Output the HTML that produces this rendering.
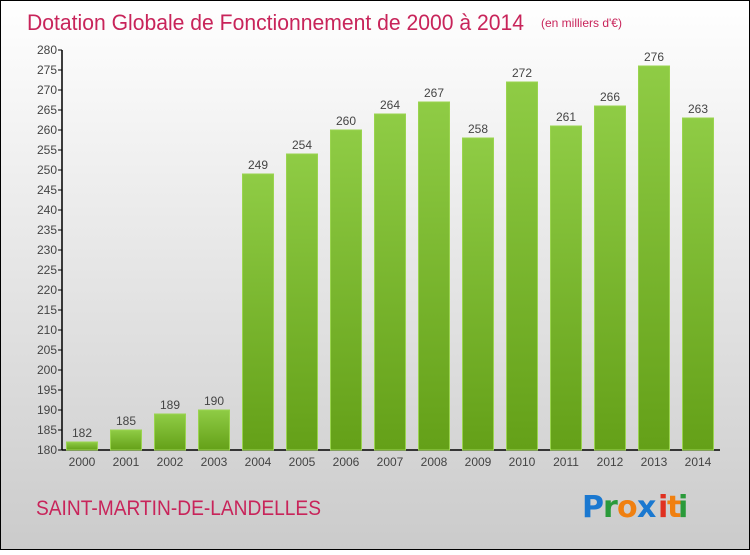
<!DOCTYPE html>
<html><head><meta charset="utf-8"><style>
html,body{margin:0;padding:0}
body{width:750px;height:550px;overflow:hidden;font-family:"Liberation Sans",sans-serif}
</style></head><body>
<svg id="chart" width="750" height="550" xmlns="http://www.w3.org/2000/svg">
<defs>
<linearGradient id="bg" x1="0" y1="0" x2="0" y2="1"><stop offset="0" stop-color="#ffffff"/><stop offset="1" stop-color="#cbcbcb"/></linearGradient>
<linearGradient id="bar" x1="0" y1="0" x2="0" y2="1"><stop offset="0" stop-color="#8fcc45"/><stop offset="1" stop-color="#64a018"/></linearGradient>
</defs>
<rect x="0.5" y="0.5" width="749" height="549" fill="url(#bg)" stroke="#000"/>
<text x="27" y="30" font-size="22" fill="#c8245a" textLength="497" lengthAdjust="spacingAndGlyphs">Dotation Globale de Fonctionnement de 2000 à 2014</text>
<text x="541" y="27" font-size="12" fill="#c8245a">(en milliers d'€)</text>
<g id="axes"></g>
<g id="bars"></g>
<text x="36" y="515" font-size="21" fill="#c8245a" textLength="285" lengthAdjust="spacingAndGlyphs">SAINT-MARTIN-DE-LANDELLES</text>
<g font-size="30" font-family="'DejaVu Sans',sans-serif" font-weight="bold">
<text x="582" y="517" fill="#1a78d0">P</text><text x="603" y="517" fill="#2a9a3a">r</text><text x="617" y="517" fill="#f08010">o</text><text x="637" y="517" fill="#1a78d0">x</text><text x="658" y="517" fill="#e03020">i</text><text x="667" y="517" fill="#f08010">t</text><text x="678" y="517" fill="#2a9a3a">i</text>
</g>
</svg>
<script>
const years=["2000","2001","2002","2003","2004","2005","2006","2007","2008","2009","2010","2011","2012","2013","2014"];
const values=[182,185,189,190,249,254,260,264,267,258,272,261,266,276,263];
const yTicks=[180,185,190,195,200,205,210,215,220,225,230,235,240,245,250,255,260,265,270,275,280];
const NS="http://www.w3.org/2000/svg";
const yMin=180,yMax=280,y0=450,y1=50,x0=62,step=44,bw=31;
const y=v=>y0-(v-yMin)*(y0-y1)/(yMax-yMin);
const xc=i=>82+i*step;
function mk(t,a,p){const e=document.createElementNS(NS,t);for(const k in a)e.setAttribute(k,a[k]);p.appendChild(e);return e;}
const ax=document.getElementById('axes'),bars=document.getElementById('bars');
const yl=mk('line',{x1:x0,y1:y1,x2:x0,y2:y0,stroke:'#000','stroke-width':1.5},ax);


const xl=mk('line',{x1:x0,y1:y0,x2:720,y2:y0,stroke:'#000','stroke-width':1.5},ax);


yTicks.forEach(v=>{
 mk('line',{x1:x0-4,y1:y(v),x2:x0,y2:y(v),stroke:'#000'},ax);
 const t=mk('text',{x:x0-5,y:y(v)+4,'text-anchor':'end','font-size':12,fill:'#444'},ax);
 
 
 t.textContent=v;
});
years.forEach((yr,i)=>{
 const v=values[i];
 const r=mk('rect',{x:xc(i)-bw/2,y:y(v),width:bw,height:y0-y(v),fill:'url(#bar)',stroke:'#9ad44f','stroke-width':1},bars);
 
 
 const l=mk('text',{x:xc(i),y:y(v)-5,'text-anchor':'middle','font-size':12,fill:'#444'},bars);
 
 
 l.textContent=v;
 const xt=mk('text',{x:xc(i),y:466,'text-anchor':'middle','font-size':12,fill:'#444'},ax);
 
 
 xt.textContent=yr;
});
</script>
</body></html>
